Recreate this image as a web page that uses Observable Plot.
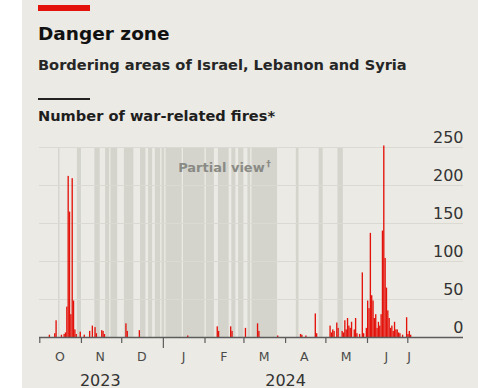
<!DOCTYPE html>
<html>
<head>
<meta charset="utf-8">
<script src="https://cdn.jsdelivr.net/npm/d3@7"></script>
<script src="https://cdn.jsdelivr.net/npm/@observablehq/plot@0.6"></script>
<style>
  html, body { margin: 0; padding: 0; background: #fff; }
  body { width: 478px; height: 388px; position: relative; overflow: hidden; font-family: "DejaVu Sans", sans-serif; }
  #panel { position: absolute; left: 22px; top: 0; width: 456px; height: 388px; background: #ebeae4; }
  #redbar { position: absolute; left: 38px; top: 5px; width: 52px; height: 6px; background: #e3120b; }
  #title { position: absolute; left: 38px; top: 25px; font-size: 18.5px; line-height: 18.5px; font-weight: bold; color: #111; white-space: nowrap; }
  #subtitle { position: absolute; left: 38px; top: 58.4px; font-size: 14.6px; line-height: 14.6px; font-weight: bold; color: #262626; white-space: nowrap; }
  #rule { position: absolute; left: 38px; top: 98px; width: 52px; height: 1.5px; background: #222; }
  #ylabel { position: absolute; left: 38px; top: 108.6px; font-size: 14.6px; line-height: 14.6px; font-weight: bold; color: #1e1e1e; white-space: nowrap; }
  #chart { position: absolute; left: 0; top: 128px; }
</style>
</head>
<body>
<div id="panel"></div>
<div id="redbar"></div>
<div id="title">Danger zone</div>
<div id="subtitle">Bordering areas of Israel, Lebanon and Syria</div>
<div id="rule"></div>
<div id="ylabel">Number of war-related fires*</div>
<div id="chart"></div>
<script>
// ---- Data ----
const fireDates = [
  "2023-10-08","2023-10-12","2023-10-13","2023-10-17","2023-10-19","2023-10-20","2023-10-21","2023-10-22",
  "2023-10-23","2023-10-24","2023-10-25","2023-10-26","2023-10-27","2023-10-28","2023-10-31",
  "2023-11-03","2023-11-07","2023-11-09","2023-11-11","2023-11-12","2023-11-16","2023-11-17","2023-11-18",
  "2023-12-04","2023-12-05","2023-12-14",
  "2024-01-19","2024-02-10","2024-02-11","2024-02-20","2024-02-21",
  "2024-03-02","2024-03-11","2024-03-12","2024-03-26",
  "2024-04-12","2024-04-13","2024-04-16","2024-04-23","2024-04-24",
  "2024-05-04","2024-05-05","2024-05-06","2024-05-07","2024-05-09","2024-05-10","2024-05-13","2024-05-14",
  "2024-05-15","2024-05-16","2024-05-17","2024-05-18","2024-05-19","2024-05-20","2024-05-22","2024-05-23",
  "2024-05-24","2024-05-26","2024-05-28","2024-05-29","2024-05-31",
  "2024-06-01","2024-06-02","2024-06-03","2024-06-04","2024-06-05","2024-06-06","2024-06-07","2024-06-08",
  "2024-06-09","2024-06-10","2024-06-11","2024-06-12","2024-06-13","2024-06-14","2024-06-15","2024-06-16",
  "2024-06-17","2024-06-18","2024-06-19","2024-06-20","2024-06-21","2024-06-22","2024-06-23","2024-06-24",
  "2024-06-25","2024-06-27","2024-06-30","2024-07-01","2024-07-02","2024-07-03"
];
const fireCounts = [
  3,5,22,3,4,6,40,212,
  165,30,209,48,10,4,7,
  3,8,15,13,5,9,8,4,
  18,8,9,
  2,14,8,14,8,
  12,18,8,2,
  4,3,2,31,5,
  15,6,10,8,19,12,8,6,
  22,10,25,15,12,20,10,25,
  5,4,85,5,12,
  48,38,137,55,48,25,30,12,
  20,15,30,140,252,104,65,35,
  25,12,15,8,20,10,10,6,
  5,3,26,4,8,3
];
// Days with only a partial view (start and end, inclusive)
const partialStart = [
  "2023-10-15","2023-10-29","2023-11-11","2023-11-19","2023-11-23","2023-12-03","2023-12-15","2023-12-21",
  "2023-12-26","2023-12-31","2024-01-03","2024-01-16","2024-02-02","2024-02-11","2024-02-21","2024-02-26","2024-03-04",
  "2024-03-07","2024-04-09","2024-04-26","2024-05-10"
];
const partialEnd = [
  "2023-10-15","2023-10-31","2023-11-14","2023-11-21","2023-11-27","2023-12-09","2023-12-18","2023-12-23",
  "2023-12-29","2024-01-01","2024-01-14","2024-01-31","2024-02-07","2024-02-18","2024-02-23","2024-02-29","2024-03-05",
  "2024-03-25","2024-04-10","2024-04-28","2024-05-13"
];
const yTicks = [0, 50, 100, 150, 200, 250];
const monthTickDates = ["2023-10-01","2023-11-01","2023-12-01","2024-02-01","2024-03-01","2024-04-01","2024-05-01","2024-06-01","2024-07-01"];
const yearTickDates = ["2024-01-01"];
const monthLabels = ["O","N","D","J","F","M","A","M","J","J"];
const monthLabelDates = ["2023-10-16","2023-11-15","2023-12-16","2024-01-16","2024-02-15","2024-03-16","2024-04-15","2024-05-16","2024-06-15","2024-07-02"];
const yearLabels = ["2023","2024"];
const yearLabelDates = ["2023-11-15","2024-04-01"];
const annotation = ["Partial view"];
const annotationMark = ["\u2020"];
const annotationDate = ["2024-01-12"];
const annotationValue = [223];

// ---- Build ----
const DAY = 864e5;
const fires = fireDates.map((d, i) => ({date: new Date(d), count: fireCounts[i]}));
const partial = partialStart.map((s, i) => ({start: new Date(s), end: new Date(+new Date(partialEnd[i]) + DAY)}));
const toDate = (s) => new Date(s);

const chart = Plot.plot({
  width: 478,
  height: 260,
  marginLeft: 39,
  marginRight: 15,
  marginTop: 19,
  marginBottom: 51,
  style: {background: "transparent", fontFamily: "DejaVu Sans, sans-serif", overflow: "visible"},
  x: {type: "utc", domain: [new Date("2023-10-01"), new Date("2024-07-01")], range: [39.3, 407.3]},
  y: {domain: [0, 250], axis: null},
  marks: [
    Plot.rect(partial, {x1: "start", x2: "end", y1: 0, y2: 250, fill: "#d4d4cd"}),
    Plot.ruleY(yTicks.filter(t => t > 0), {stroke: "#dadad3", strokeWidth: 1.2}),
    Plot.rectY(fires, {x1: "date", x2: d => new Date(+d.date + DAY), y: "count", fill: "#e3120b"}),
    Plot.ruleY([0], {stroke: "#5c5c5c", strokeWidth: 1.5}),
    Plot.axisX({ticks: monthTickDates.map(toDate), tickSize: 6, tickFormat: () => "", label: null, stroke: "#5c5c5c", strokeWidth: 1.2}),
    Plot.axisX({ticks: yearTickDates.map(toDate), tickSize: 11, tickFormat: () => "", label: null, stroke: "#5c5c5c", strokeWidth: 1.2}),
    Plot.text(monthLabels, {x: monthLabelDates.map(toDate), text: monthLabels, frameAnchor: "bottom", dy: 19.2, lineAnchor: "middle", fontSize: 12.5, fill: "#4a4a4a"}),
    Plot.text(yearLabels, {x: yearLabelDates.map(toDate), text: yearLabels, frameAnchor: "bottom", dy: 42.9, lineAnchor: "middle", fontSize: 16, fill: "#333"}),
    Plot.text(yTicks, {y: d => d, text: d => String(d), frameAnchor: "right", textAnchor: "end", dy: -10, lineAnchor: "middle", fontSize: 16, fill: "#333"}),
    Plot.text(annotation, {x: annotationDate.map(toDate), y: annotationValue, text: annotation, textAnchor: "start", lineAnchor: "middle", fontSize: 13, fontWeight: "bold", fill: "#8a8a85"}),
    Plot.text(annotationMark, {x: annotationDate.map(toDate), y: annotationValue, text: annotationMark, textAnchor: "start", lineAnchor: "middle", dx: 88, dy: -4, fontSize: 9, fontWeight: "bold", fill: "#8a8a85"})
  ]
});
document.getElementById("chart").appendChild(chart);
</script>
</body>
</html>
